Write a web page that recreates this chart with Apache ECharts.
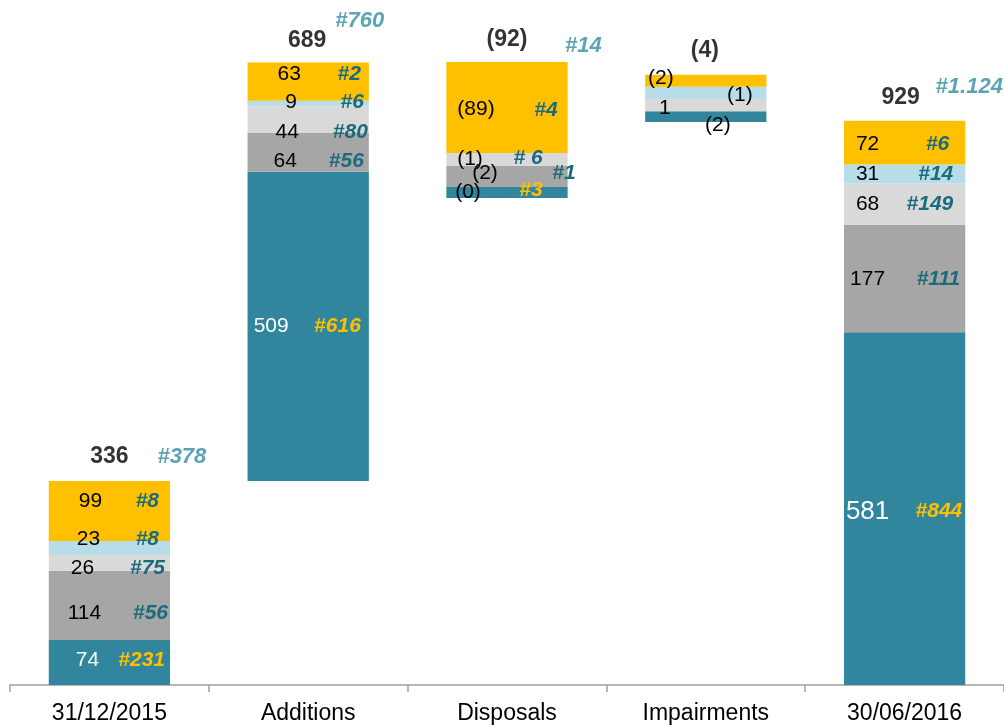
<!DOCTYPE html>
<html lang="en">
<head>
<meta charset="UTF-8" />
<title>Waterfall 2015-2016</title>
<script src="https://cdn.jsdelivr.net/npm/echarts@6/dist/echarts.min.js"></script>
<style>
  html, body { margin: 0; padding: 0; background: #fff; }
  #chart { width: 1004px; height: 725px; }
</style>
</head>
<body>
<div id="chart"></div>
<script>
const categories = ['31/12/2015', 'Additions', 'Disposals', 'Impairments', '30/06/2016'];

// segment heights as drawn (Disposals / Impairments are drawn taller than their reported values)
const baseH      = [0, 336, 802, 927, 0];
const tealH      = [74, 509, 18, 18, 581];
const grayH      = [114, 64, 35, 0, 177];
const lightGrayH = [26, 44, 21, 20, 68];
const lightBlueH = [23, 9, 0, 20, 31];
const yellowH    = [99, 63, 150, 20, 72];

// printed values
const tealLbl      = ['74', '509', '(0)', '(2)', '581'];
const grayLbl      = ['114', '64', '(2)', '', '177'];
const lightGrayLbl = ['26', '44', '(1)', '1', '68'];
const lightBlueLbl = ['23', '9', '', '(1)', '31'];
const yellowLbl    = ['99', '63', '(89)', '(2)', '72'];

// printed counts
const tealTag      = ['#231', '#616', '#3', '', '#844'];
const grayTag      = ['#56', '#56', '#1', '', '#111'];
const lightGrayTag = ['#75', '#80', '# 6', '', '#149'];
const lightBlueTag = ['#8', '#6', '', '', '#14'];
const yellowTag    = ['#8', '#2', '#4', '', '#6'];

const totalLbl = ['336', '689', '(92)', '(4)', '929'];
const totalTag = ['#378', '#760', '#14', '', '#1.124'];

const FONT = '"Liberation Sans", Arial, sans-serif';
const TAG_DARK = '#1B6B7C';
const TAG_YEL = '#FFC000';

// label nudges [dx, dy]
const segments = [
  { color: '#31859C', h: tealH, lbl: tealLbl, tag: tealTag, tagColor: TAG_YEL,
    numColor: ['#fff', '#fff', '#000', '#000', '#fff'], numSize: [21, 21, 21, 21, 26],
    numOff: [[-22, -2], [-37, 0], [-39, 0], [12, 9], [-37, 3]],
    tagOff: [[-5, -2], [-8, 0], [-25, -2], [0, 0], [-3, 3]] },
  { color: '#A6A6A6', h: grayH, lbl: grayLbl, tag: grayTag, tagColor: TAG_DARK,
    numOff: [[-25, 8], [-23, 9], [-22, -3], [0, 0], [-37, 1]],
    tagOff: [[-2, 8], [-5, 9], [8, -3], [0, 0], [-5, 1]] },
  { color: '#D9D9D9', h: lightGrayH, lbl: lightGrayLbl, tag: lightGrayTag, tagColor: TAG_DARK,
    numOff: [[-27, 5], [-21, 13], [-37, 0], [-41, 3], [-37, 0]],
    tagOff: [[-5, 5], [-1, 13], [-25, -1], [0, 0], [-12, 0]] },
  { color: '#B7DEE8', h: lightBlueH, lbl: lightBlueLbl, tag: lightBlueTag, tagColor: TAG_DARK,
    numOff: [[-21, -9], [-17, -1], [0, 0], [34, 2], [-37, 0]],
    tagOff: [[-11, -9], [-5, -1], [0, 0], [0, 0], [-12, 0]] },
  { color: '#FFC000', h: yellowH, lbl: yellowLbl, tag: yellowTag, tagColor: TAG_DARK,
    numOff: [[-19, -10], [-19, -7], [-31, 2], [-45, -3], [-37, 1]],
    tagOff: [[-11, -10], [-8, -7], [-10, 3], [0, 0], [-16, 1]] }
];

const totalOff = [[0, -24], [-1, -22], [0, -22], [-1, -24], [-4, -23]];
const totalTagOff = [[48, -24], [27, -42], [58, -16], [0, 0], [31, -34]];

const tops = categories.map((c, i) =>
  baseH[i] + segments.reduce((s, seg) => s + seg.h[i], 0));

const barW = '61%';
const series = [];

function baseBar(stack) {
  return {
    type: 'bar', stack: stack, barWidth: barW, barGap: '-100%', silent: true,
    itemStyle: { color: 'transparent' }, data: baseH
  };
}

series.push(baseBar('seg'));
segments.forEach(s => {
  series.push({
    type: 'bar', stack: 'seg', barWidth: barW, barGap: '-100%',
    itemStyle: { color: s.color },
    data: s.h.map((v, i) => ({
      value: v,
      label: {
        show: !!s.lbl[i], formatter: s.lbl[i], position: 'inside', offset: s.numOff[i],
        color: s.numColor ? s.numColor[i] : '#000',
        fontSize: s.numSize ? s.numSize[i] : 21, fontFamily: FONT
      }
    }))
  });
});

series.push(baseBar('tag'));
segments.forEach(s => {
  series.push({
    type: 'bar', stack: 'tag', barWidth: barW, barGap: '-100%', silent: true,
    itemStyle: { color: 'transparent' },
    data: s.h.map((v, i) => ({
      value: v,
      label: {
        show: !!s.tag[i], formatter: s.tag[i], position: ['100%', '50%'],
        align: 'right', verticalAlign: 'middle', offset: s.tagOff[i],
        color: s.tagColor, fontSize: 21, fontWeight: 'bold', fontStyle: 'italic', fontFamily: FONT
      }
    }))
  });
});

series.push({
  type: 'scatter', symbolSize: 0, silent: true,
  data: tops.map((t, i) => ({
    value: [i, t],
    label: {
      show: true, formatter: totalLbl[i], position: 'inside', offset: totalOff[i],
      color: '#000', fontSize: 23, fontWeight: 'bold', fontFamily: FONT
    }
  }))
});
series.push({
  type: 'scatter', symbolSize: 0, silent: true,
  data: tops.map((t, i) => ({
    value: [i, t],
    label: {
      show: !!totalTag[i], formatter: totalTag[i], position: 'inside', offset: totalTagOff[i],
      align: 'left', color: '#338DA3', fontSize: 22, fontWeight: 'bold', fontStyle: 'italic', fontFamily: FONT
    }
  }))
});

const chart = echarts.init(document.getElementById('chart'));
chart.setOption({
  animation: false,
  grid: { left: 10, right: 0, top: 17, bottom: 40, outerBoundsMode: 'none' },
  xAxis: {
    type: 'category', data: categories,
    axisLine: { lineStyle: { color: '#A0A0A0', width: 1.5 } },
    axisTick: { show: true, interval: 0, length: 7, lineStyle: { color: '#A0A0A0', width: 1.5 } },
    axisLabel: { interval: 0, margin: 17, color: '#000', fontSize: 23, fontFamily: FONT }
  },
  yAxis: { type: 'value', min: 0, max: 1100, show: false, splitLine: { show: false } },
  series: series
});
</script>
</body>
</html>
